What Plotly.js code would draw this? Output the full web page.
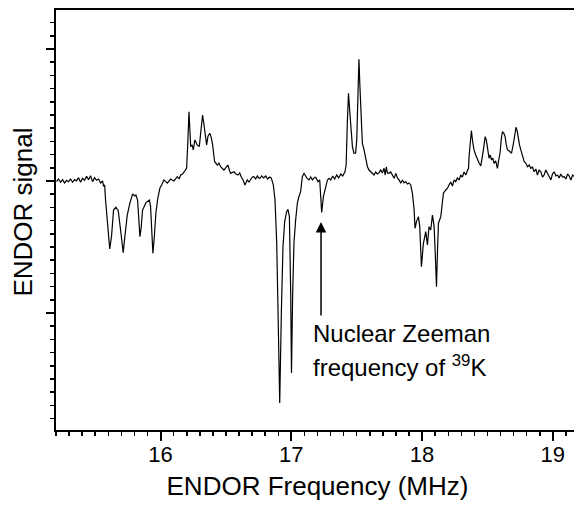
<!DOCTYPE html>
<html>
<head>
<meta charset="utf-8">
<script src="https://cdn.plot.ly/plotly-3.0.1.min.js"></script>
<style>
html, body { margin: 0; padding: 0; overflow: hidden; background: #fff; width: 574px; height: 507px; }
#chart { width: 579px; height: 507px; }
</style>
</head>
<body>
<div id="chart"></div>
<script>
// ENDOR frequency (MHz)
const freq = [
15.204,15.219,15.235,15.250,15.265,15.281,15.296,15.311,15.327,15.342,15.357,15.372,15.388,15.403,15.418,15.434,15.449,15.464,15.480,15.495,15.510,15.526,15.541,15.556,15.564,15.572,
15.579,15.594,15.611,15.625,15.640,15.658,15.676,15.694,15.714,15.728,15.745,15.765,15.778,15.786,15.801,15.811,15.824,15.834,15.842,15.851,15.862,15.888,15.914,15.923,15.933,15.941,15.953,15.964,15.979,15.995,
16.008,16.025,16.051,16.077,16.102,16.128,16.142,16.153,16.168,16.178,16.199,16.209,16.217,16.224,16.230,16.241,16.250,16.262,16.272,16.280,16.296,16.308,16.321,16.330,16.339,16.352,16.363,16.377,16.388,16.398,16.413,16.434,16.446,16.459,16.484,16.499,16.515,16.528,16.536,16.561,16.576,16.592,16.605,16.618,16.631,16.645,16.663,16.676,16.689,16.702,16.714,16.727,16.740,16.750,16.760,
16.773,16.788,16.804,16.819,16.834,16.846,16.862,16.875,16.888,16.898,16.911,16.924,16.936,16.949,16.964,16.974,16.985,16.995,17.001,17.010,17.020,17.033,17.046,17.058,17.071,17.084,17.097,17.110,17.117,17.135,17.148,17.161,17.173,17.186,17.204,17.217,17.224,17.232,17.245,17.263,17.276,17.288,17.301,
17.316,17.331,17.347,17.362,17.378,17.393,17.410,17.419,17.428,17.437,17.446,17.454,17.467,17.479,17.492,17.500,17.509,17.517,17.524,17.530,17.543,17.556,17.565,17.582,17.594,17.607,17.620,17.632,17.645,17.658,17.671,17.684,17.696,17.709,17.718,17.726,17.735,17.747,17.760,17.773,17.786,17.799,17.811,17.824,17.837,17.849,17.862,17.875,17.888,17.900,17.913,
17.926,17.939,17.946,17.957,17.972,17.982,17.995,18.010,18.028,18.041,18.053,18.066,18.079,18.092,18.101,18.110,18.118,18.125,18.143,18.163,18.181,18.194,18.206,18.219,18.232,18.245,18.257,18.270,18.283,18.296,18.308,18.321,18.334,18.347,18.355,
18.359,18.369,18.377,18.387,18.397,18.410,18.423,18.436,18.449,18.460,18.469,18.482,18.491,18.499,18.512,18.521,18.531,18.541,18.550,18.563,18.576,18.586,18.596,18.605,18.614,18.624,18.635,18.644,18.653,18.667,18.684,18.699,18.709,18.718,18.727,18.735,18.745,18.755,18.768,18.781,18.793,18.806,18.819,18.831,18.844,18.857,18.870,18.882,18.895,18.908,18.921,18.933,18.946,18.959,18.972,18.985,18.997,
19.010,19.023,19.036,19.048,19.061,19.074,19.087,19.100,19.113,19.125,19.138,19.151,19.164,19.176
];
// ENDOR signal (arbitrary units, baseline = 0)
const signal = [
-0.005,0.015,-0.010,0.010,-0.015,0.005,-0.005,0.015,-0.010,0.010,0.000,0.025,-0.010,0.020,0.005,0.035,0.010,0.040,-0.005,0.025,0.005,0.015,-0.015,0.000,-0.040,-0.030,
-0.144,-0.333,-0.515,-0.417,-0.220,-0.199,-0.225,-0.371,-0.543,-0.409,-0.258,-0.167,-0.121,-0.098,-0.114,-0.106,-0.144,-0.295,-0.422,-0.356,-0.220,-0.164,-0.144,-0.189,-0.409,-0.548,-0.409,-0.242,-0.129,-0.053,
-0.030,0.008,-0.017,0.015,0.000,0.033,0.015,0.045,0.053,0.070,0.096,0.311,0.525,0.386,0.260,0.273,0.235,0.311,0.288,0.273,0.260,0.402,0.500,0.439,0.373,0.273,0.341,0.361,0.326,0.273,0.146,0.121,0.136,0.108,0.083,0.098,0.121,0.076,0.058,0.070,0.053,0.045,0.061,0.028,0.008,-0.030,0.008,-0.008,0.013,0.030,0.033,0.015,0.038,0.023,0.020,
0.038,0.023,0.038,0.015,0.030,0.023,-0.030,-0.144,-0.470,-0.977,-1.682,-0.977,-0.498,-0.308,-0.233,-0.214,-0.270,-0.848,-1.455,-0.848,-0.470,-0.295,-0.167,-0.119,-0.081,0.033,0.058,0.038,0.023,0.008,0.030,0.008,0.023,0.028,-0.005,0.008,-0.083,-0.239,-0.119,-0.030,0.008,0.020,0.008,
0.038,0.015,0.045,0.023,0.053,0.038,0.070,0.121,0.437,0.664,0.538,0.437,0.260,0.210,0.212,0.311,0.652,0.922,0.727,0.563,0.286,0.235,0.197,0.108,0.083,0.070,0.053,0.045,0.068,0.053,0.063,0.083,0.061,0.096,0.045,0.106,0.061,0.058,0.068,0.038,0.020,0.058,0.023,0.008,-0.017,0.008,-0.015,-0.005,-0.023,-0.015,-0.030,
-0.093,-0.220,-0.358,-0.308,-0.270,-0.346,-0.649,-0.472,-0.384,-0.485,-0.346,-0.371,-0.258,-0.346,-0.561,-0.801,-0.523,-0.320,-0.270,-0.093,-0.068,-0.055,-0.030,-0.008,-0.038,0.008,-0.005,0.023,0.008,0.045,0.030,0.068,0.045,0.083,0.098,
0.184,0.311,0.381,0.295,0.235,0.197,0.159,0.136,0.114,0.174,0.235,0.336,0.311,0.260,0.172,0.197,0.159,0.174,0.134,0.152,0.096,0.159,0.210,0.311,0.373,0.364,0.336,0.273,0.235,0.227,0.210,0.286,0.371,0.407,0.379,0.323,0.273,0.235,0.189,0.146,0.136,0.108,0.121,0.096,0.106,0.070,0.091,0.045,0.083,0.070,0.030,0.045,0.083,0.061,0.038,0.008,0.053,
0.070,0.038,0.045,0.023,0.053,0.030,0.033,0.015,0.053,0.038,0.008,0.045,0.033,0.023
];
// Tick labels on the frequency axis
const xTickVals = [16, 17, 18, 19];
const xTickText = ['16', '17', '18', '19'];
// Marker for the nuclear Zeeman frequency of 39K
const zeemanFreq = 17.227;
const arrowTipSignal = -0.311;
const arrowTailSignal = -1.030;

const FONT = 'Arial, "Liberation Sans", Helvetica, sans-serif';

const trace = {
  x: freq, y: signal, type: 'scatter', mode: 'lines',
  line: { color: '#000', width: 1.2 },
  hoverinfo: 'skip', showlegend: false
};

const layout = {
  width: 579, height: 507,
  margin: { l: 56, r: 0, t: 10, b: 77, pad: 0 },
  paper_bgcolor: '#fff', plot_bgcolor: '#fff',
  font: { family: FONT, color: '#000' },
  showlegend: false,
  xaxis: {
    range: [15.2, 19.2], tickvals: xTickVals, ticktext: xTickText,
    ticks: 'outside', ticklen: 9, tickwidth: 2, tickcolor: '#000',
    ticklabelstandoff: -5,
    minor: { dtick: 0.1, tick0: 0, ticks: 'outside', ticklen: 4, tickwidth: 1.5, tickcolor: '#000', showgrid: false },
    showline: true, linewidth: 2, linecolor: '#000', mirror: true,
    showgrid: false, zeroline: false,
    tickfont: { size: 22, family: FONT },
    title: { text: 'ENDOR Frequency (MHz)', font: { size: 26, family: FONT }, standoff: 10 },
    automargin: false
  },
  yaxis: {
    range: [-1.886, 1.295], dtick: 1, tick0: 0,
    ticks: 'outside', ticklen: 8, tickwidth: 2, tickcolor: '#000',
    minor: { dtick: 0.1, tick0: 0, ticks: 'outside', ticklen: 4, tickwidth: 1.5, tickcolor: '#000', showgrid: false },
    showticklabels: false,
    showline: true, linewidth: 2, linecolor: '#000', mirror: true,
    showgrid: false, zeroline: false, automargin: false
  },
  xaxis2: {
    overlaying: 'x', anchor: 'y', side: 'top', matches: 'x', range: [15.2, 19.2],
    tickvals: xTickVals, ticks: 'inside', ticklen: 8, tickwidth: 2, tickcolor: '#000',
    minor: { dtick: 0.1, tick0: 0, ticks: 'inside', ticklen: 5, tickwidth: 1.5, tickcolor: '#000', showgrid: false },
    showticklabels: false, showline: false, showgrid: false, zeroline: false
  },
  yaxis2: {
    overlaying: 'y', anchor: 'x', side: 'right', matches: 'y', range: [-1.886, 1.295],
    dtick: 1, tick0: 0, ticks: 'inside', ticklen: 8, tickwidth: 2, tickcolor: '#000',
    minor: { dtick: 0.1, tick0: 0, ticks: 'inside', ticklen: 4, tickwidth: 1.5, tickcolor: '#000', showgrid: false },
    showticklabels: false, showline: false, showgrid: false, zeroline: false
  },
  annotations: [
    {
      xref: 'paper', yref: 'paper', x: -0.0633, y: 0.5198,
      xanchor: 'center', yanchor: 'middle', textangle: -90,
      text: 'ENDOR signal', showarrow: false,
      font: { size: 26, family: FONT, color: '#000' }
    },
    {
      xref: 'x', yref: 'y', x: zeemanFreq, y: arrowTipSignal,
      axref: 'x', ayref: 'y', ax: zeemanFreq, ay: arrowTailSignal,
      text: '', showarrow: true, arrowhead: 2, arrowsize: 1.4, arrowwidth: 1.5,
      arrowcolor: '#000', standoff: 0, startstandoff: 0
    },
    {
      xref: 'x', yref: 'y', x: 17.150, y: -1.271, xanchor: 'left', yanchor: 'bottom',
      text: 'Nuclear Zeeman', showarrow: false, align: 'left',
      font: { size: 24, family: FONT, color: '#000' }
    },
    {
      xref: 'x', yref: 'y', x: 17.150, y: -1.529, xanchor: 'left', yanchor: 'bottom',
      text: 'frequency of <sup>39</sup>K', showarrow: false, align: 'left',
      font: { size: 24, family: FONT, color: '#000' }
    }
  ]
};

Plotly.newPlot('chart', [trace], layout, { staticPlot: true, displayModeBar: false, responsive: false });
</script>
</body>
</html>
